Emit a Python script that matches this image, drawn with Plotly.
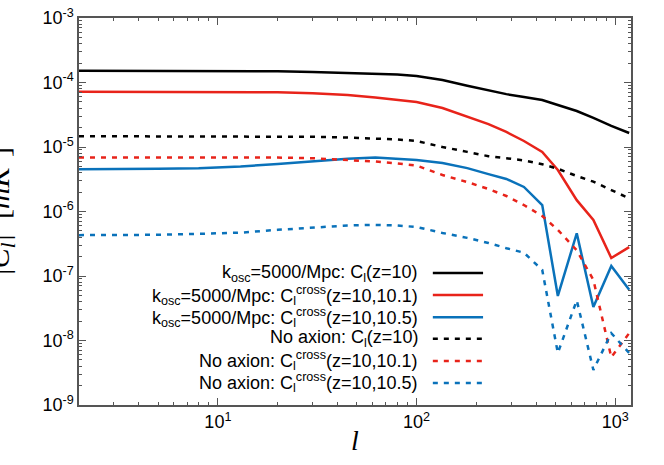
import plotly.graph_objects as go
import numpy as np

# multipole l
ell = [2, 3, 5, 8, 13, 20, 30, 45, 62, 80, 100, 135, 180, 230,
       283, 347, 429, 514, 640, 776, 955, 1175]

# k_osc = 5000/Mpc
cl_kosc_z10 = [1.52e-4, 1.52e-4, 1.52e-4, 1.51e-4, 1.50e-4, 1.49e-4, 1.46e-4, 1.42e-4,
               1.38e-4, 1.33e-4, 1.26e-4, 1.09e-4, 8.9e-5, 7.5e-5, 6.6e-5, 5.96e-5,
               5.36e-5, 4.48e-5, 3.61e-5, 2.82e-5, 2.12e-5, 1.65e-5]
cl_kosc_cross101 = [7.2e-5, 7.2e-5, 7.2e-5, 7.2e-5, 7.1e-5, 7.05e-5, 6.8e-5, 6.4e-5,
                    5.85e-5, 5.36e-5, 4.99e-5, 4.03e-5, 2.92e-5, 2.27e-5, 1.71e-5, 1.24e-5,
                    8.4e-6, 4.4e-6, 1.5e-6, 7.4e-7, 1.9e-7, 2.8e-7]
cl_kosc_cross105 = [4.5e-6, 4.5e-6, 4.6e-6, 4.7e-6, 5.0e-6, 5.45e-6, 6.07e-6, 6.6e-6,
                    6.9e-6, 6.6e-6, 6.3e-6, 5.65e-6, 4.7e-6, 3.8e-6, 3.2e-6, 2.4e-6,
                    1.26e-6, 4.9e-8, 4.6e-7, 3.3e-8, 1.43e-7, 6.1e-8]

# no axion
cl_none_z10 = [1.47e-5, 1.47e-5, 1.47e-5, 1.47e-5, 1.47e-5, 1.46e-5, 1.44e-5, 1.40e-5,
               1.36e-5, 1.31e-5, 1.24e-5, 1.0e-5, 8.4e-6, 7.2e-6, 6.7e-6, 6.2e-6,
               5.4e-6, 4.6e-6, 3.55e-6, 2.9e-6, 2.15e-6, 1.6e-6]
cl_none_cross101 = [6.9e-6, 6.9e-6, 6.9e-6, 6.9e-6, 6.9e-6, 6.85e-6, 6.7e-6, 6.3e-6,
                    5.96e-6, 5.55e-6, 5.16e-6, 3.68e-6, 2.86e-6, 2.23e-6, 1.74e-6, 1.26e-6,
                    8.5e-7, 5.2e-7, 2.5e-7, 8.7e-8, 5.5e-9, 1.3e-8]
cl_none_cross105 = [4.3e-7, 4.3e-7, 4.35e-7, 4.5e-7, 4.7e-7, 5.2e-7, 5.65e-7, 6.07e-7,
                    6.2e-7, 6.07e-7, 5.75e-7, 4.65e-7, 3.9e-7, 3.25e-7, 2.7e-7, 2.3e-7,
                    1.24e-7, 6.4e-9, 4.2e-8, 3.5e-9, 1.3e-8, 6.4e-9]

x_tickvals = [10, 100, 1000]
x_ticktext = ['10<sup>1</sup>', '10<sup>2</sup>', '10<sup>3</sup>']
y_tickvals = [1e-9, 1e-8, 1e-7, 1e-6, 1e-5, 1e-4, 1e-3]
y_ticktext = ['10<sup>-9</sup>', '10<sup>-8</sup>', '10<sup>-7</sup>', '10<sup>-6</sup>',
              '10<sup>-5</sup>', '10<sup>-4</sup>', '10<sup>-3</sup>']

BLACK = '#000000'
RED = '#e8231a'
BLUE = '#0a72ba'

series = [
    (cl_kosc_z10, BLACK, 'solid', 'k<sub>osc</sub>=5000/Mpc: C<sub>l</sub>(z=10)'),
    (cl_kosc_cross101, RED, 'solid', 'k<sub>osc</sub>=5000/Mpc: C<sub>l</sub><sup>cross</sup>(z=10,10.1)'),
    (cl_kosc_cross105, BLUE, 'solid', 'k<sub>osc</sub>=5000/Mpc: C<sub>l</sub><sup>cross</sup>(z=10,10.5)'),
    (cl_none_z10, BLACK, '5px,6px', 'No axion: C<sub>l</sub>(z=10)'),
    (cl_none_cross101, RED, '5px,6px', 'No axion: C<sub>l</sub><sup>cross</sup>(z=10,10.1)'),
    (cl_none_cross105, BLUE, '5px,6px', 'No axion: C<sub>l</sub><sup>cross</sup>(z=10,10.5)'),
]

fig = go.Figure()
for vals, col, dash, name in series:
    fig.add_trace(go.Scatter(x=ell, y=vals, mode='lines', name=name,
                             line=dict(color=col, width=2.5, dash=dash),
                             showlegend=False))

# gnuplot-style key: text right-aligned, sample line on the right
key_y = [0.341, 0.284, 0.227, 0.171, 0.114, 0.057]
for (vals, col, dash, name), ky in zip(series, key_y):
    fig.add_annotation(x=0.618, y=ky, xref='paper', yref='paper', text=name,
                       showarrow=False, xanchor='right', yanchor='middle',
                       font=dict(size=18, color='black'))
    fig.add_shape(type='line', xref='paper', yref='paper', x0=0.641, x1=0.732,
                  y0=ky, y1=ky, line=dict(color=col, width=2.5, dash=dash))

minor_x = [m * 10 ** d for d in range(0, 4) for m in range(2, 10) if 2 <= m * 10 ** d <= 1200]
minor_y = [m * 10.0 ** d for d in range(-9, -3) for m in range(2, 10)]

axis_common = dict(showline=True, linecolor='#555555', linewidth=1.5, mirror='allticks',
                   ticks='inside', ticklen=7, tickcolor='#555555', tickwidth=1,
                   showgrid=False, zeroline=False, automargin=False,
                   tickfont=dict(family='Liberation Sans, Arial', size=18, color='black'))

fig.update_layout(
    width=664, height=465,
    margin=dict(l=79, r=33, t=18, b=60, autoexpand=False),
    plot_bgcolor='white', paper_bgcolor='white',
    font=dict(family='Liberation Sans, Arial', color='black'),
    xaxis=dict(type='log', range=[np.log10(2), np.log10(1200)],
               tickmode='array', tickvals=x_tickvals, ticktext=x_ticktext,
               minor=dict(tickvals=minor_x, ticks='inside', ticklen=3, tickcolor='#555555'),
               **axis_common),
    yaxis=dict(type='log', range=[-9, -3],
               tickmode='array', tickvals=y_tickvals, ticktext=y_ticktext,
               minor=dict(tickvals=minor_y, ticks='inside', ticklen=3, tickcolor='#555555'),
               **axis_common),
)

# axis titles (y title is partly cut off at the left edge in the original)
fig.add_annotation(x=0.5, y=-0.093, xref='paper', yref='paper', text='<i>l</i>',
                   showarrow=False, yanchor='middle',
                   font=dict(family='Liberation Serif, serif', size=28, color='black'))
fig.add_annotation(x=-0.145, y=0.5, xref='paper', yref='paper',
                   text='<i>|C<sub>l</sub>|</i>  [<i>mK</i><sup>2</sup>]',
                   showarrow=False, textangle=-90, xanchor='center', yanchor='middle',
                   font=dict(family='Liberation Serif, serif', size=30, color='black'))

# drop the browser's default body margin so the figure sits at the page origin
fig.write_html("out.html", config={'displayModeBar': False},
               post_script="document.body.style.margin='0';")
